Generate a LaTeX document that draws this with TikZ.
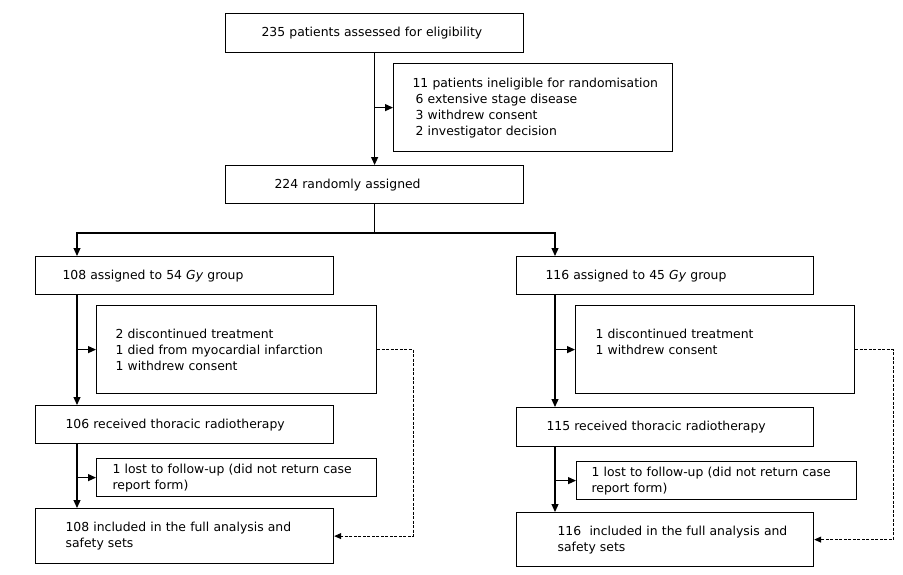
\documentclass[tikz,border=0pt]{standalone}
\usepackage{fontspec}
\setmainfont{DejaVu Sans}
\usetikzlibrary{arrows.meta}
\tikzset{
  pbox/.style n args={4}{draw, line width=1.2pt, anchor=north west, align=left,
    inner ysep=0pt, inner xsep=#2pt, text width=#1pt, minimum height=#3pt,
    font=\fontsize{12.4}{16}\selectfont, #4},
  arr/.style={line width=1.2pt, -{Triangle[length=8pt,width=7pt]}},
  ln/.style={line width=1.2pt},
  darr/.style={line width=0.9pt, dashed, dash pattern=on 3pt off 1.5pt, -{Triangle[length=7pt,width=6pt]}}
}
\begin{document}
\begin{tikzpicture}[x=1pt,y=-1pt]
\useasboundingbox (0,0) rectangle (903,574);
% top
\node[pbox={226}{36}{39}{}] (b1) at (225,13) {235 patients assessed for eligibility};
\node[pbox={241}{19}{88}{}] (inel) at (393,63) {\mbox{11 patients ineligible for randomisation}\\
\hspace{3pt}6 extensive stage disease\\
\hspace{3pt}3 withdrew consent\\
\hspace{3pt}2 investigator decision};
\node[pbox={200}{49}{38}{}] (b2) at (225,165) {224 randomly assigned};
% left arm
\node[pbox={244}{27}{38}{}] (a1) at (35,256) {108 assigned to 54 \textit{Gy} group};
\node[pbox={242}{19}{88}{}] (d1) at (96,305) {2 discontinued treatment\\1 died from myocardial infarction\\1 withdrew consent};
\node[pbox={238}{30}{38}{}] (r1) at (35,405) {106 received thoracic radiotherapy};
\node[pbox={248}{16}{38}{}] (l1) at (96,458) {\mbox{1 lost to follow-up (did not return case}\\report form)};
\node[pbox={238}{30}{55}{}] (i1) at (35,508) {\mbox{108 included in the full analysis and}\\safety sets};
% right arm
\node[pbox={239}{29}{38}{}] (a2) at (516,256) {116 assigned to 45 \textit{Gy} group};
\node[pbox={239}{20}{88}{}] (d2) at (575,305) {1 discontinued treatment\\1 withdrew consent\\\mbox{}};
\node[pbox={237}{30}{39}{}] (r2) at (516,407) {115 received thoracic radiotherapy};
\node[pbox={250}{15}{38}{}] (l2) at (576,461) {\mbox{1 lost to follow-up (did not return case}\\report form)};
\node[pbox={215}{41}{54}{}] (i2) at (516,512) {\mbox{116\ \ included in the full analysis and}\\safety sets};
% trunk coordinates
\coordinate (tl) at (77,233);
\coordinate (tr) at (555,233);
% top connectors
\draw[arr] (b1.south) -- (b2.north);
\draw[arr] (b1.south |- inel.west) -- (inel.west);
\draw[ln] (b2.south) -- (b2.south |- tl);
\draw[arr] (b2.south |- tl) -- (tl) -- (tl |- a1.north);
\draw[arr] (b2.south |- tr) -- (tr) -- (tr |- a2.north);
% left
\draw[arr] (tl |- a1.south) -- (tl |- r1.north);
\draw[arr] (tl |- d1.west) -- (d1.west);
\draw[arr] (tl |- r1.south) -- (tl |- i1.north);
\draw[arr] (tl |- l1.west) -- (l1.west);
\draw[darr] (d1.east) -- ++(36,0) |- (i1.east);
% right
\draw[arr] (tr |- a2.south) -- (tr |- r2.north);
\draw[arr] (tr |- d2.west) -- (d2.west);
\draw[arr] (tr |- r2.south) -- (tr |- i2.north);
\draw[arr] (tr |- l2.west) -- (l2.west);
\draw[darr] (d2.east) -- ++(38,0) |- (i2.east);
\end{tikzpicture}
\end{document}
